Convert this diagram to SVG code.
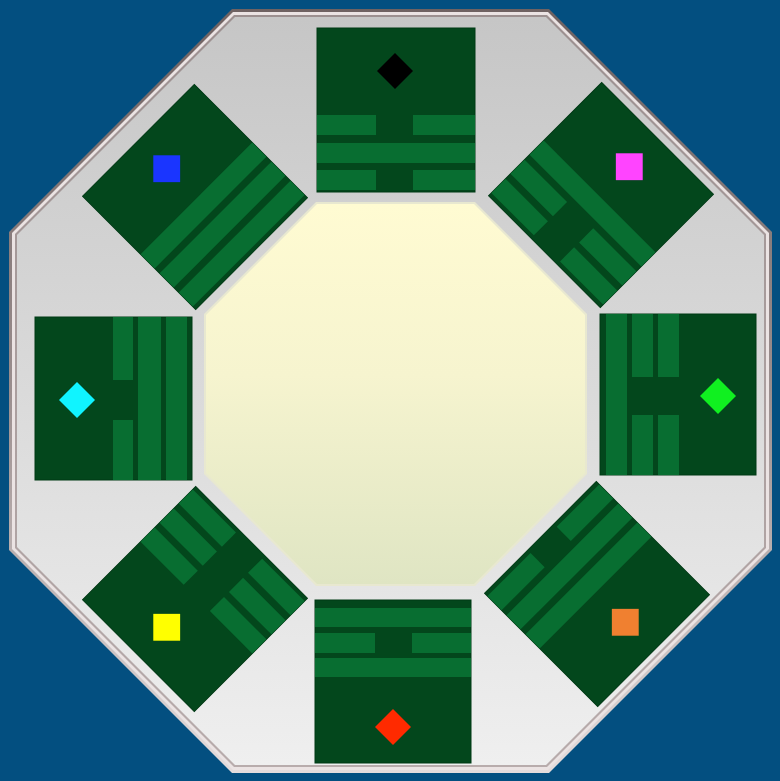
<svg xmlns="http://www.w3.org/2000/svg" width="780" height="781" viewBox="0 0 780 781">
<defs>
<linearGradient id="rim" x1="0" y1="0" x2="0" y2="1">
<stop offset="0" stop-color="#6f6262"/>
<stop offset="0.5" stop-color="#9a8e8e"/>
<stop offset="1" stop-color="#e4dcdc"/>
</linearGradient>
<linearGradient id="rim2" x1="0" y1="0" x2="0" y2="1">
<stop offset="0" stop-color="#9c9090"/>
<stop offset="1" stop-color="#b8acac"/>
</linearGradient>
<linearGradient id="plate" x1="0" y1="0" x2="0" y2="1">
<stop offset="0" stop-color="#c6c6c6"/>
<stop offset="0.5" stop-color="#dadada"/>
<stop offset="1" stop-color="#efefef"/>
</linearGradient>
<linearGradient id="core" x1="0" y1="0" x2="0" y2="1">
<stop offset="0" stop-color="#fffbd2"/>
<stop offset="0.45" stop-color="#f6f4cf"/>
<stop offset="1" stop-color="#dfe5c3"/>
</linearGradient>
<g id="sq"><rect x="-79" y="-80" width="158" height="160" class="base"/></g>
<g id="solid"><rect x="-79" y="0" width="158" height="20" class="bar"/></g>
<g id="broken"><rect x="-79" y="0" width="60" height="20" class="bar"/><rect x="18" y="0" width="61" height="20" class="bar"/></g>
</defs>
<style>
.base{fill:#03471c;stroke:#013a15;stroke-width:1}
.bar{fill:#086e31}
</style>
<rect width="780" height="781" fill="#034f80"/>
<g id="frame">
<polygon points="232,9 549,9 772,232 772,550 549,773 232,773 9,550 9,232" fill="url(#rim)"/>
<polygon points="233,12 548,12 769,233 769,549 548,770 233,770 12,549 12,233" fill="#ebe3e3"/>
<polygon points="234,15 547,15 766,234 766,548 547,767 234,767 15,548 15,234" fill="url(#rim2)"/>
<polygon points="235,17 546,17 764,235 764,547 546,765 235,765 17,547 17,235" fill="url(#plate)"/>
</g>
<g id="center">
<polygon points="316,202 475,202 587,314 587,474 475,586 316,586 204,474 204,314" fill="#e8e8d0"/>
<polygon points="317,204 474,204 585,315 585,473 474,584 317,584 206,473 206,315" fill="url(#core)"/>
</g>
<g id="tri-top">
<rect x="317" y="28" width="158" height="164" class="base"/>
<rect x="317" y="115" width="59" height="20" class="bar"/><rect x="413" y="115" width="62" height="20" class="bar"/>
<rect x="317" y="143" width="158" height="20" class="bar"/>
<rect x="317" y="170" width="59" height="20" class="bar"/><rect x="413" y="170" width="62" height="20" class="bar"/>
<polygon points="395,53 413,71 395,89 377,71" fill="#000000"/>
</g>
<g id="tri-bottom">
<rect x="315" y="600" width="156" height="163" class="base"/>
<rect x="315" y="608" width="156" height="19" class="bar"/>
<rect x="315" y="633" width="60" height="20" class="bar"/><rect x="412" y="633" width="59" height="20" class="bar"/>
<rect x="315" y="658" width="156" height="19" class="bar"/>
<polygon points="393,709 411,727 393,745 375,727" fill="#ff2a00"/>
</g>
<g id="tri-left">
<rect x="35" y="317" width="157" height="163" class="base"/>
<rect x="113" y="317" width="20" height="63" class="bar"/><rect x="113" y="420" width="20" height="60" class="bar"/>
<rect x="138" y="317" width="23" height="163" class="bar"/>
<rect x="166" y="317" width="21" height="163" class="bar"/>
<polygon points="77,382 95,400 77,418 59,400" fill="#10f4ff"/>
</g>
<g id="tri-right">
<rect x="600" y="314" width="156" height="161" class="base"/>
<rect x="606" y="314" width="21" height="161" class="bar"/>
<rect x="632" y="314" width="21" height="63" class="bar"/><rect x="632" y="415" width="21" height="60" class="bar"/>
<rect x="658" y="314" width="21" height="63" class="bar"/><rect x="658" y="415" width="21" height="60" class="bar"/>
<polygon points="718,378 736,396 718,414 700,396" fill="#10f020"/>
</g>
<g id="tri-topleft" transform="translate(195,197) rotate(-45)">
<use href="#sq"/>
<use href="#solid" y="2"/><use href="#solid" y="29"/><use href="#solid" y="56"/>
<polygon points="0,-59 19,-40 0,-21 -19,-40" fill="#1a35ff"/>
</g>
<g id="tri-topright" transform="translate(601,195) rotate(45)">
<use href="#sq"/>
<use href="#solid" y="2"/><use href="#broken" y="29"/><use href="#broken" y="56"/>
<polygon points="0,-59 19,-40 0,-21 -19,-40" fill="#ff44ff"/>
</g>
<g id="tri-bottomleft" transform="translate(195,599) rotate(-135)">
<use href="#sq"/>
<use href="#broken" y="2"/><use href="#broken" y="29"/><use href="#broken" y="56"/>
<polygon points="0,-59 19,-40 0,-21 -19,-40" fill="#ffff00"/>
</g>
<g id="tri-bottomright" transform="translate(597,594) rotate(135)">
<use href="#sq"/>
<use href="#solid" y="2"/><use href="#solid" y="29"/><use href="#broken" y="56"/>
<polygon points="0,-59 19,-40 0,-21 -19,-40" fill="#f08030"/>
</g>
</svg>
